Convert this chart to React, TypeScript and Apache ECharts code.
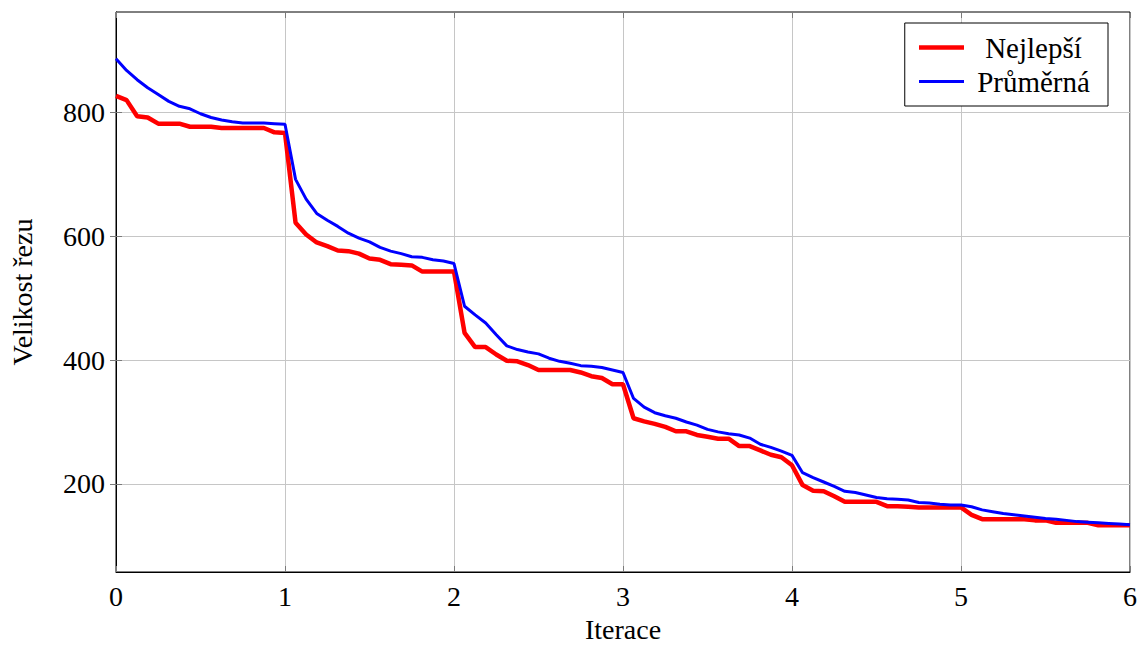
import React, { useEffect, useRef } from "react";
import * as echarts from "echarts";

const STEPS_PER_ITERATION = 16;

const nejlepsi = [
  827, 820, 794, 792, 782, 782, 782, 777, 777, 777, 775, 775, 775, 775, 775, 768,
  767, 622, 603, 590, 584, 577, 576, 572, 564, 562, 555, 554, 553, 543, 543, 543,
  543, 444, 421, 421, 409, 399, 398, 392, 384, 384, 384, 384, 380, 374, 371, 361,
  361, 306, 301, 297, 292, 285, 285, 279, 276, 273, 273, 261, 261, 254, 247, 243,
  230, 198, 189, 188, 180, 171, 171, 171, 171, 164, 164, 163, 162, 162, 162, 162,
  162, 150, 143, 143, 143, 143, 143, 141, 141, 137, 137, 137, 137, 133, 133, 133,
  133,
];

const prumerna = [
  887, 868, 853, 840, 829, 818, 810, 806, 798, 792, 788, 785, 783, 783, 783, 782,
  781, 692, 660, 637, 626, 616, 605, 597, 591, 582, 576, 572, 567, 566, 562, 560,
  556, 487, 473, 460, 441, 423, 417, 413, 410, 403, 398, 395, 391, 390, 388, 384,
  380, 338, 324, 315, 310, 306, 300, 295, 288, 284, 281, 279, 274, 264, 259, 253,
  246, 218, 210, 203, 196, 188, 186, 182, 178, 176, 175, 174, 170, 169, 167, 166,
  166, 163, 158, 155, 152, 150, 148, 146, 144, 143, 141, 139, 138, 137, 136, 135,
  134,
];

const xTicks = [0, 1, 2, 3, 4, 5, 6];
const yTicks = [200, 400, 600, 800];
const seriesNames = ["Nejlepší", "Průměrná"];

const FONT = "Liberation Serif";

export default function App() {
  const ref = useRef<HTMLDivElement>(null);

  useEffect(() => {
    if (!ref.current) return;
    const chart = echarts.init(ref.current, null, { renderer: "svg" });
    const toPairs = (arr: number[]) =>
      arr.map((v, i) => [i / STEPS_PER_ITERATION, v]);

    const allVals = nejlepsi.concat(prumerna);
    const dMin = Math.min(...allVals);
    const dMax = Math.max(...allVals);
    const pad = (dMax - dMin) * 0.1;
    const yMin = dMin - pad;
    const yMax = dMax + pad;

    const gridColor = "#c6c6c6";
    const tickColor = "#7a7a7a";

    chart.setOption({
      animation: false,
      backgroundColor: "#ffffff",
      textStyle: { fontFamily: FONT },
      grid: {
        left: 116,
        right: 8,
        top: 12,
        bottom: 74,
        containLabel: false,
        outerBoundsMode: "none",
        show: true,
        borderColor: "#000",
        borderWidth: 1,
        backgroundColor: "transparent",
      },
      legend: {
        orient: "vertical",
        right: 30,
        top: 23,
        padding: [10, 10, 10, 12],
        itemGap: 5,
        itemWidth: 45,
        itemHeight: 14,
        borderColor: "#000",
        borderWidth: 1,
        backgroundColor: "#fff",
        itemStyle: { opacity: 0 },
        formatter: "{a|{name}}",
        textStyle: {
          fontFamily: FONT,
          fontSize: 29,
          color: "#000",
          rich: {
            a: {
              fontFamily: FONT,
              fontSize: 29,
              lineHeight: 30,
              width: 129,
              align: "center",
              color: "#000",
            },
          },
        },
        data: [
          { name: seriesNames[0], lineStyle: { width: 4.5, color: "#ff0000" } },
          { name: seriesNames[1], lineStyle: { width: 3, color: "#0000ff" } },
        ],
      },
      xAxis: [
        {
          type: "value",
          min: xTicks[0],
          max: xTicks[xTicks.length - 1],
          interval: 1,
          name: "Iterace",
          nameLocation: "middle",
          nameGap: 43,
          nameTextStyle: { fontFamily: FONT, fontSize: 28, color: "#000", lineHeight: 28 },
          axisLine: { show: true, lineStyle: { color: "#000", width: 1 } },
          axisTick: { show: true, inside: true, length: 6, lineStyle: { color: tickColor } },
          axisLabel: {
            fontFamily: FONT,
            fontSize: 28,
            color: "#000",
            margin: 10,
          },
          splitLine: { show: true, lineStyle: { color: gridColor, width: 1 } },
        },
        {
          type: "value",
          position: "top",
          min: xTicks[0],
          max: xTicks[xTicks.length - 1],
          interval: 1,
          axisLine: { show: false },
          axisTick: { show: true, inside: true, length: 6, lineStyle: { color: tickColor } },
          axisLabel: { show: false },
          splitLine: { show: false },
        },
      ],
      yAxis: [
        {
          type: "value",
          min: yMin,
          max: yMax,
          name: "Velikost řezu",
          nameLocation: "middle",
          nameGap: 80,
          nameTextStyle: { fontFamily: FONT, fontSize: 28, color: "#000" },
          axisLine: { show: true, lineStyle: { color: "#000", width: 1 } },
          axisTick: {
            show: true,
            inside: true,
            length: 6,
            customValues: yTicks,
            lineStyle: { color: tickColor },
          },
          axisLabel: {
            fontFamily: FONT,
            fontSize: 28,
            color: "#000",
            margin: 11,
            customValues: yTicks,
          },
          splitLine: { show: true, lineStyle: { color: gridColor, width: 1 } },
        },
        {
          type: "value",
          position: "right",
          min: yMin,
          max: yMax,
          axisLine: { show: false },
          axisTick: {
            show: true,
            inside: true,
            length: 6,
            customValues: yTicks,
            lineStyle: { color: tickColor },
          },
          axisLabel: { show: false, customValues: yTicks },
          splitLine: { show: false },
        },
      ],
      series: [
        {
          name: seriesNames[0],
          type: "line",
          data: toPairs(nejlepsi),
          showSymbol: false,
          symbol: "none",
          lineStyle: { color: "#ff0000", width: 4.5 },
          itemStyle: { color: "#ff0000" },
          z: 2,
        },
        {
          name: seriesNames[1],
          type: "line",
          data: toPairs(prumerna),
          showSymbol: false,
          symbol: "none",
          lineStyle: { color: "#0000ff", width: 3 },
          itemStyle: { color: "#0000ff" },
          z: 3,
        },
      ],
    });

    return () => chart.dispose();
  }, []);

  return (
    <div
      ref={ref}
      style={{ position: "absolute", left: 0, top: 0, width: 1138, height: 646 }}
    />
  );
}
